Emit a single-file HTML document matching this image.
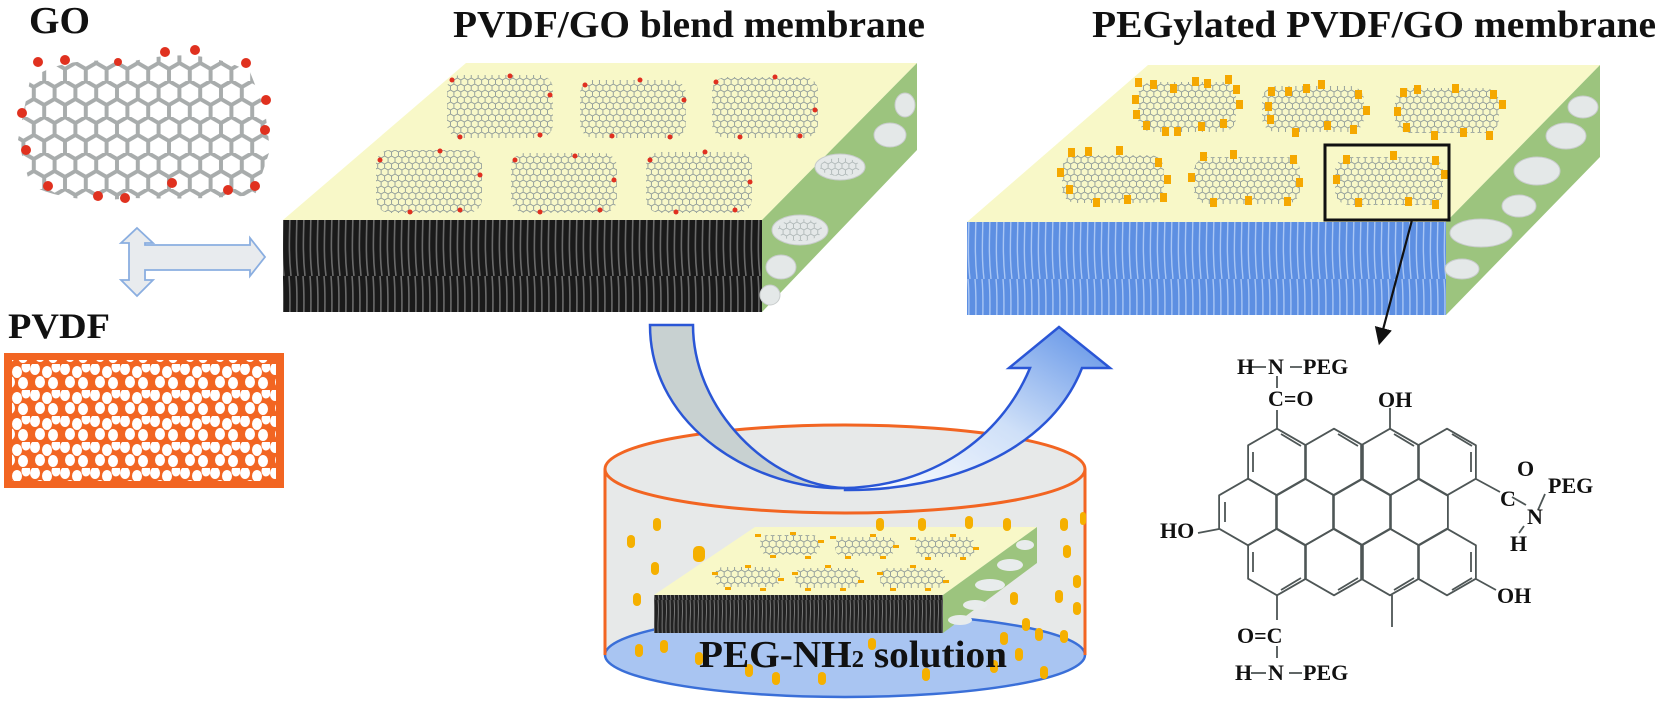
<!DOCTYPE html>
<html><head><meta charset="utf-8"><style>
html,body{margin:0;padding:0;background:#fff;}
svg{display:block;}
text{font-family:"Liberation Serif",serif;font-weight:bold;fill:#111;}
</style></head><body>
<svg width="1661" height="702" viewBox="0 0 1661 702" xmlns="http://www.w3.org/2000/svg">
<defs>
 <pattern id="hexs" width="6.93" height="12" patternUnits="userSpaceOnUse">
  <path d="M0,2 L3.46,0 L6.93,2 L6.93,6 L3.46,8 L0,6 Z M3.46,8 L3.46,12" fill="none" stroke="#8c9898" stroke-width="0.9"/>
 </pattern>
 <pattern id="hexb" width="20.8" height="36" patternUnits="userSpaceOnUse" x="13" y="45">
  <path d="M0,6 L10.4,0 L20.8,6 L20.8,18 L10.4,24 L0,18 Z M10.4,24 L10.4,36" fill="none" stroke="#a8acac" stroke-width="4"/>
 </pattern>
 <pattern id="dots" width="30" height="26" patternUnits="userSpaceOnUse">
  <ellipse cx="5" cy="5" rx="5" ry="6" fill="#fff"/>
  <ellipse cx="17" cy="8" rx="5" ry="6" fill="#fff"/>
  <ellipse cx="26" cy="3" rx="4.5" ry="5.5" fill="#fff"/>
  <ellipse cx="10" cy="18" rx="5" ry="6" fill="#fff"/>
  <ellipse cx="23" cy="19" rx="5" ry="6" fill="#fff"/>
 </pattern>
 <pattern id="fiber" width="14" height="92" patternUnits="userSpaceOnUse">
  <rect width="14" height="92" fill="#1a1a1a"/>
  <path d="M2,0 C5,30 0,60 4,92 M9,0 C12,35 7,55 11,92" stroke="#6a6a6a" stroke-width="1.6" fill="none"/>
 </pattern>
 <pattern id="fiberb" width="14" height="93" patternUnits="userSpaceOnUse">
  <rect width="14" height="93" fill="#5d8fe2"/>
  <path d="M2,0 C5,30 0,60 4,93 M9,0 C12,35 7,55 11,93" stroke="#a9c6f4" stroke-width="1.4" fill="none"/>
 </pattern>
 <pattern id="fibers" width="8" height="40" patternUnits="userSpaceOnUse">
  <rect width="8" height="40" fill="#222"/>
  <path d="M2,0 C4,15 0,25 3,40 M6,0 C7,20 5,28 7,40" stroke="#777" stroke-width="1" fill="none"/>
 </pattern>
 <linearGradient id="bluearr" x1="0" y1="1" x2="1" y2="0">
  <stop offset="0" stop-color="#ffffff"/><stop offset="0.5" stop-color="#cfe0f8"/><stop offset="1" stop-color="#5b8fe6"/>
 </linearGradient>
 <marker id="ah" markerWidth="10" markerHeight="10" refX="6" refY="5" orient="auto">
  <path d="M0,1 L8,5 L0,9 Z" fill="#111"/>
 </marker>
</defs>

<text x="29" y="33" font-size="38" textLength="61" lengthAdjust="spacingAndGlyphs">GO</text>
<text x="453" y="37" font-size="38" textLength="472" lengthAdjust="spacingAndGlyphs">PVDF/GO blend membrane</text>
<text x="1092" y="37" font-size="38" textLength="564" lengthAdjust="spacingAndGlyphs">PEGylated PVDF/GO membrane</text>
<text x="8" y="338" font-size="36" textLength="102" lengthAdjust="spacingAndGlyphs">PVDF</text>

<path d="M30,80 Q60,55 130,62 Q200,45 250,72 L265,110 L270,150 L255,195 Q200,200 130,198 Q70,205 30,185 L18,140 Z" fill="url(#hexb)"/>
<g fill="#e0311f">
 <circle cx="38" cy="62" r="5"/><circle cx="65" cy="60" r="5"/><circle cx="118" cy="62" r="4"/><circle cx="165" cy="52" r="5"/><circle cx="195" cy="50" r="5"/><circle cx="246" cy="63" r="5"/>
 <circle cx="266" cy="100" r="5"/><circle cx="22" cy="113" r="5"/><circle cx="265" cy="130" r="5"/><circle cx="26" cy="150" r="5"/>
 <circle cx="48" cy="186" r="5"/><circle cx="98" cy="196" r="5"/><circle cx="125" cy="198" r="5"/><circle cx="172" cy="183" r="5"/><circle cx="228" cy="190" r="5"/><circle cx="255" cy="186" r="5"/>
</g>

<path d="M137,228 L153,243 L145,243 L145,245 L250,245 L250,238 L265,257 L250,276 L250,270 L145,270 L145,280 L153,280 L137,296 L121,280 L129,280 L129,243 L121,243 Z" fill="#e8ebee" stroke="#8aaee0" stroke-width="1.8"/>

<rect x="4" y="353" width="280" height="135" fill="#f26522"/>
<rect x="12" y="360" width="264" height="121" fill="url(#dots)"/>

<polygon points="466,63 917,63 762,220 283,220" fill="#f8f8c8"/>
<polygon points="762,220 917,63 917,150 762,312" fill="#9cc47e"/>
<rect x="283" y="220" width="479" height="92" fill="url(#fiber)"/>
<g fill="#e4e8e8" stroke="#c8cccc">
 <ellipse cx="905" cy="105" rx="10" ry="12"/><ellipse cx="890" cy="135" rx="16" ry="12"/><ellipse cx="840" cy="167" rx="25" ry="13"/><ellipse cx="800" cy="230" rx="28" ry="15"/><ellipse cx="781" cy="267" rx="15" ry="12"/><ellipse cx="770" cy="295" rx="10" ry="10"/>
</g>
<g fill="url(#hexs)" opacity="0.6">
 <ellipse cx="840" cy="167" rx="20" ry="9"/><ellipse cx="800" cy="230" rx="22" ry="11"/>
</g>
<g fill="url(#hexs)">
 <rect x="447" y="75" width="106" height="63" rx="14"/><rect x="580" y="80" width="106" height="58" rx="14"/><rect x="712" y="77" width="106" height="61" rx="14"/>
 <rect x="376" y="150" width="106" height="63" rx="14"/><rect x="511" y="153" width="106" height="60" rx="14"/><rect x="646" y="152" width="106" height="61" rx="14"/>
</g>
<g fill="#e03020">
 <circle cx="452" cy="80" r="2.5"/><circle cx="510" cy="76" r="2.5"/><circle cx="550" cy="95" r="2.5"/><circle cx="460" cy="137" r="2.5"/><circle cx="540" cy="135" r="2.5"/>
 <circle cx="585" cy="85" r="2.5"/><circle cx="640" cy="80" r="2.5"/><circle cx="684" cy="100" r="2.5"/><circle cx="612" cy="136" r="2.5"/><circle cx="670" cy="137" r="2.5"/>
 <circle cx="716" cy="82" r="2.5"/><circle cx="775" cy="77" r="2.5"/><circle cx="815" cy="110" r="2.5"/><circle cx="740" cy="137" r="2.5"/><circle cx="800" cy="136" r="2.5"/>
 <circle cx="380" cy="160" r="2.5"/><circle cx="440" cy="151" r="2.5"/><circle cx="480" cy="175" r="2.5"/><circle cx="410" cy="212" r="2.5"/><circle cx="460" cy="210" r="2.5"/>
 <circle cx="515" cy="160" r="2.5"/><circle cx="575" cy="156" r="2.5"/><circle cx="614" cy="180" r="2.5"/><circle cx="540" cy="212" r="2.5"/><circle cx="600" cy="210" r="2.5"/>
 <circle cx="650" cy="160" r="2.5"/><circle cx="705" cy="152" r="2.5"/><circle cx="750" cy="182" r="2.5"/><circle cx="676" cy="212" r="2.5"/><circle cx="735" cy="210" r="2.5"/>
</g>

<polygon points="1148,65 1600,65 1446,222 967,222" fill="#f8f8c8"/>
<polygon points="1446,222 1600,65 1600,157 1446,315" fill="#9cc47e"/>
<rect x="967" y="222" width="479" height="93" fill="url(#fiberb)"/>
<g fill="#e4e8e8" stroke="#c8cccc">
 <ellipse cx="1583" cy="107" rx="15" ry="11"/><ellipse cx="1566" cy="136" rx="20" ry="13"/><ellipse cx="1537" cy="171" rx="23" ry="14"/><ellipse cx="1519" cy="206" rx="17" ry="11"/><ellipse cx="1481" cy="233" rx="31" ry="14"/><ellipse cx="1462" cy="269" rx="17" ry="10"/>
</g>
<g fill="url(#hexs)">
 <rect x="1138" y="82" width="98" height="50" rx="14"/><rect x="1262" y="86" width="102" height="46" rx="14"/><rect x="1395" y="88" width="104" height="45" rx="14"/>
 <rect x="1062" y="155" width="102" height="48" rx="14"/><rect x="1194" y="157" width="106" height="47" rx="14"/><rect x="1335" y="157" width="108" height="48" rx="14"/>
</g>
<g fill="#f5a800">
 <rect x="1135" y="78" width="7" height="9"/><rect x="1150" y="80" width="7" height="9"/><rect x="1170" y="84" width="7" height="9"/><rect x="1192" y="77" width="7" height="9"/><rect x="1204" y="79" width="7" height="9"/><rect x="1225" y="75" width="7" height="9"/><rect x="1233" y="85" width="7" height="9"/><rect x="1132" y="95" width="7" height="9"/><rect x="1236" y="100" width="7" height="9"/><rect x="1133" y="110" width="7" height="9"/><rect x="1143" y="121" width="7" height="9"/><rect x="1162" y="127" width="7" height="9"/><rect x="1174" y="127" width="7" height="9"/><rect x="1198" y="122" width="7" height="9"/><rect x="1220" y="119" width="7" height="9"/>
 <rect x="1268" y="87" width="7" height="9"/><rect x="1285" y="87" width="7" height="9"/><rect x="1303" y="84" width="7" height="9"/><rect x="1318" y="80" width="7" height="9"/><rect x="1355" y="90" width="7" height="9"/><rect x="1265" y="102" width="7" height="9"/><rect x="1363" y="106" width="7" height="9"/><rect x="1267" y="115" width="7" height="9"/><rect x="1292" y="128" width="7" height="9"/><rect x="1324" y="121" width="7" height="9"/><rect x="1350" y="125" width="7" height="9"/>
 <rect x="1400" y="88" width="7" height="9"/><rect x="1414" y="85" width="7" height="9"/><rect x="1452" y="84" width="7" height="9"/><rect x="1490" y="90" width="7" height="9"/><rect x="1394" y="107" width="7" height="9"/><rect x="1499" y="100" width="7" height="9"/><rect x="1403" y="123" width="7" height="9"/><rect x="1431" y="131" width="7" height="9"/><rect x="1460" y="128" width="7" height="9"/><rect x="1486" y="131" width="7" height="9"/>
 <rect x="1068" y="148" width="7" height="9"/><rect x="1085" y="147" width="7" height="9"/><rect x="1116" y="146" width="7" height="9"/><rect x="1155" y="158" width="7" height="9"/><rect x="1057" y="168" width="7" height="9"/><rect x="1164" y="175" width="7" height="9"/><rect x="1066" y="185" width="7" height="9"/><rect x="1093" y="198" width="7" height="9"/><rect x="1124" y="195" width="7" height="9"/><rect x="1160" y="193" width="7" height="9"/>
 <rect x="1200" y="152" width="7" height="9"/><rect x="1230" y="150" width="7" height="9"/><rect x="1290" y="155" width="7" height="9"/><rect x="1188" y="173" width="7" height="9"/><rect x="1296" y="178" width="7" height="9"/><rect x="1210" y="198" width="7" height="9"/><rect x="1245" y="196" width="7" height="9"/><rect x="1284" y="197" width="7" height="9"/>
 <rect x="1343" y="155" width="7" height="9"/><rect x="1390" y="151" width="7" height="9"/><rect x="1432" y="156" width="7" height="9"/><rect x="1333" y="175" width="7" height="9"/><rect x="1441" y="170" width="7" height="9"/><rect x="1355" y="198" width="7" height="9"/><rect x="1405" y="197" width="7" height="9"/><rect x="1432" y="200" width="7" height="9"/>
</g>
<rect x="1325" y="145" width="124" height="75" fill="none" stroke="#111" stroke-width="3"/>
<line x1="1412" y1="220" x2="1380" y2="341" stroke="#111" stroke-width="2.2" marker-end="url(#ah)"/>

<rect x="605" y="469" width="480" height="186" fill="#e7e9e9"/>
<ellipse cx="845" cy="655" rx="240" ry="42" fill="#a9c5f2" stroke="#3a6fd8" stroke-width="2.5"/>
<ellipse cx="845" cy="469" rx="240" ry="44" fill="#e7e9e9" stroke="#f26522" stroke-width="3"/>
<line x1="605" y1="469" x2="605" y2="655" stroke="#f26522" stroke-width="3"/>
<line x1="1085" y1="469" x2="1085" y2="655" stroke="#f26522" stroke-width="3"/>

<path d="M650,325 L693,325 C693,410 770,486 845,488 C760,491 650,430 650,325 Z" fill="#c8d1d1" stroke="#2a56d6" stroke-width="2.5"/>
<path d="M845,488 C930,486 1000,440 1030,368 L1009,368 L1059,327 L1110,368 L1082,368 C1050,450 950,491 845,490 Z" fill="url(#bluearr)" stroke="#2a56d6" stroke-width="2.5"/>

<polygon points="755,527 1037,527 943,595 654,595" fill="#f8f8c8"/>
<polygon points="943,595 1037,527 1037,563 943,633" fill="#9cc47e"/>
<rect x="654" y="595" width="289" height="38" fill="url(#fibers)"/>
<g fill="#e8ecec"><ellipse cx="1025" cy="545" rx="9" ry="5"/><ellipse cx="1010" cy="565" rx="13" ry="6"/><ellipse cx="990" cy="585" rx="15" ry="6"/><ellipse cx="975" cy="605" rx="12" ry="5"/><ellipse cx="960" cy="620" rx="12" ry="5"/></g>
<g fill="url(#hexs)">
 <rect x="760" y="535" width="60" height="20" rx="8"/><rect x="835" y="537" width="60" height="19" rx="8"/><rect x="915" y="537" width="60" height="20" rx="8"/>
 <rect x="715" y="567" width="65" height="20" rx="8"/><rect x="795" y="568" width="65" height="20" rx="8"/><rect x="880" y="568" width="65" height="20" rx="8"/>
</g>
<g fill="#f5a800">
 <rect x="755" y="534" width="6" height="3"/><rect x="790" y="532" width="6" height="3"/><rect x="818" y="540" width="6" height="3"/><rect x="770" y="555" width="6" height="3"/><rect x="805" y="556" width="6" height="3"/>
 <rect x="830" y="536" width="6" height="3"/><rect x="870" y="534" width="6" height="3"/><rect x="893" y="545" width="6" height="3"/><rect x="845" y="556" width="6" height="3"/><rect x="880" y="556" width="6" height="3"/>
 <rect x="910" y="537" width="6" height="3"/><rect x="950" y="534" width="6" height="3"/><rect x="973" y="547" width="6" height="3"/><rect x="925" y="557" width="6" height="3"/><rect x="960" y="557" width="6" height="3"/>
 <rect x="712" y="572" width="6" height="3"/><rect x="745" y="565" width="6" height="3"/><rect x="778" y="578" width="6" height="3"/><rect x="725" y="587" width="6" height="3"/><rect x="760" y="588" width="6" height="3"/>
 <rect x="792" y="572" width="6" height="3"/><rect x="825" y="565" width="6" height="3"/><rect x="858" y="580" width="6" height="3"/><rect x="805" y="588" width="6" height="3"/><rect x="840" y="588" width="6" height="3"/>
 <rect x="877" y="572" width="6" height="3"/><rect x="910" y="565" width="6" height="3"/><rect x="943" y="580" width="6" height="3"/><rect x="890" y="588" width="6" height="3"/><rect x="925" y="588" width="6" height="3"/>
</g>
<g fill="#f5b000">
 <rect x="653" y="518" width="8" height="13" rx="4"/><rect x="627" y="535" width="8" height="13" rx="4"/><rect x="693" y="546" width="12" height="16" rx="5"/><rect x="651" y="562" width="8" height="13" rx="4"/><rect x="633" y="593" width="8" height="13" rx="4"/>
 <rect x="876" y="518" width="8" height="13" rx="4"/><rect x="918" y="518" width="8" height="13" rx="4"/><rect x="965" y="516" width="8" height="13" rx="4"/><rect x="1003" y="518" width="8" height="13" rx="4"/><rect x="1060" y="518" width="8" height="13" rx="4"/><rect x="1080" y="512" width="6" height="13" rx="3"/>
 <rect x="1063" y="545" width="8" height="13" rx="4"/><rect x="1073" y="575" width="8" height="13" rx="4"/><rect x="1055" y="590" width="8" height="13" rx="4"/><rect x="1073" y="602" width="8" height="13" rx="4"/><rect x="1010" y="592" width="8" height="13" rx="4"/>
 <rect x="1022" y="618" width="8" height="13" rx="4"/><rect x="1035" y="628" width="8" height="13" rx="4"/><rect x="1060" y="630" width="8" height="13" rx="4"/><rect x="1000" y="632" width="8" height="13" rx="4"/>
 <rect x="635" y="644" width="8" height="13" rx="4"/><rect x="660" y="640" width="8" height="13" rx="4"/><rect x="695" y="652" width="8" height="13" rx="4"/><rect x="745" y="664" width="8" height="13" rx="4"/><rect x="772" y="672" width="8" height="13" rx="4"/><rect x="818" y="672" width="8" height="13" rx="4"/>
 <rect x="868" y="638" width="8" height="12" rx="4"/><rect x="922" y="668" width="8" height="13" rx="4"/><rect x="990" y="660" width="8" height="13" rx="4"/><rect x="1040" y="666" width="8" height="13" rx="4"/><rect x="1015" y="648" width="8" height="13" rx="4"/>
</g>
<text x="699" y="667" font-size="38" textLength="308" lengthAdjust="spacingAndGlyphs">PEG-NH<tspan font-size="24">2</tspan> solution</text>

<g stroke="#4e5656" stroke-width="1.8" fill="none" stroke-linejoin="round">
 <path d="M0,-33.3 L28.9,-16.7 L28.9,16.7 L0,33.3 L-28.9,16.7 L-28.9,-16.7 Z" transform="translate(1277,462)"/>
 <path d="M0,-33.3 L28.9,-16.7 L28.9,16.7 L0,33.3 L-28.9,16.7 L-28.9,-16.7 Z" transform="translate(1334,462)"/>
 <path d="M0,-33.3 L28.9,-16.7 L28.9,16.7 L0,33.3 L-28.9,16.7 L-28.9,-16.7 Z" transform="translate(1390,462)"/>
 <path d="M0,-33.3 L28.9,-16.7 L28.9,16.7 L0,33.3 L-28.9,16.7 L-28.9,-16.7 Z" transform="translate(1447,462)"/>
 <path d="M0,-33.3 L28.9,-16.7 L28.9,16.7 L0,33.3 L-28.9,16.7 L-28.9,-16.7 Z" transform="translate(1248,512)"/>
 <path d="M0,-33.3 L28.9,-16.7 L28.9,16.7 L0,33.3 L-28.9,16.7 L-28.9,-16.7 Z" transform="translate(1305,512)"/>
 <path d="M0,-33.3 L28.9,-16.7 L28.9,16.7 L0,33.3 L-28.9,16.7 L-28.9,-16.7 Z" transform="translate(1362,512)"/>
 <path d="M0,-33.3 L28.9,-16.7 L28.9,16.7 L0,33.3 L-28.9,16.7 L-28.9,-16.7 Z" transform="translate(1419,512)"/>
 <path d="M0,-33.3 L28.9,-16.7 L28.9,16.7 L0,33.3 L-28.9,16.7 L-28.9,-16.7 Z" transform="translate(1277,562)"/>
 <path d="M0,-33.3 L28.9,-16.7 L28.9,16.7 L0,33.3 L-28.9,16.7 L-28.9,-16.7 Z" transform="translate(1334,562)"/>
 <path d="M0,-33.3 L28.9,-16.7 L28.9,16.7 L0,33.3 L-28.9,16.7 L-28.9,-16.7 Z" transform="translate(1390,562)"/>
 <path d="M0,-33.3 L28.9,-16.7 L28.9,16.7 L0,33.3 L-28.9,16.7 L-28.9,-16.7 Z" transform="translate(1447,562)"/>
 <path d="M1253,452 L1253,472 M1281,434 L1301,446 M1338,434 L1358,446 M1394,434 L1414,446 M1452,434 L1472,446 M1471,452 L1471,472 M1225,502 L1225,522 M1253,552 L1253,572 M1281,590 L1301,578 M1471,552 L1471,572 M1452,590 L1472,578 M1338,590 L1358,578 M1394,590 L1414,578"/>
 <path d="M1277,429 L1277,410 M1277,376 L1277,388 M1390,429 L1390,408 M1476,479 L1500,492 M1512,497 L1526,505 M1538,510 L1545,494 M1524,526 L1519,533 M1219,529 L1198,533 M1476,579 L1496,590 M1392,595 L1392,627 M1277,595 L1277,620 M1277,646 L1277,658 M1250,367 L1266,367 M1290,367 L1302,367"/>
</g>
<g font-size="22">
 <text x="1237" y="374">H</text><text x="1268" y="374">N</text><text x="1303" y="374">PEG</text>
 <text x="1268" y="406">C=O</text>
 <text x="1378" y="407">OH</text>
 <text x="1517" y="476">O</text><text x="1500" y="506">C</text><text x="1548" y="493">PEG</text><text x="1527" y="524">N</text><text x="1510" y="551">H</text>
 <text x="1160" y="538">HO</text>
 <text x="1497" y="603">OH</text>
 <text x="1237" y="643">O=C</text>
 <text x="1235" y="680">H</text><text x="1268" y="680">N</text><text x="1303" y="680">PEG</text>
</g>
<g stroke="#4e5656" stroke-width="1.8"><line x1="1251" y1="673" x2="1266" y2="673"/><line x1="1289" y1="673" x2="1302" y2="673"/></g>
</svg>
</body></html>
